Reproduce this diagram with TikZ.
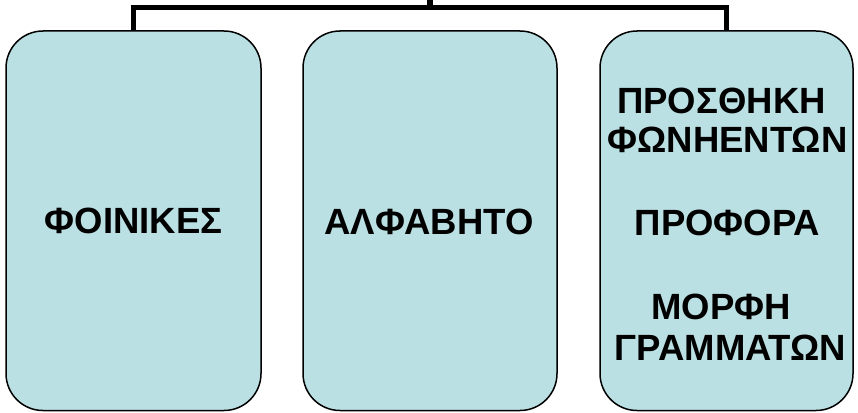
\documentclass[tikz,border=0pt]{standalone}
\usepackage{fontspec}
\setmainfont{Liberation Sans}
\definecolor{boxfill}{RGB}{187,224,227}
\begin{document}
\begin{tikzpicture}[x=1pt,y=-1pt,
  box/.style={draw=black,line width=1.5pt,fill=boxfill,rounded corners=37pt,
    inner sep=0pt,outer sep=0pt},
  lbl/.style={anchor=base,inner sep=0pt,font=\fontsize{36.5}{40}\selectfont\bfseries},
  conn/.style={line width=5.5pt,draw=black}]
\useasboundingbox (0,0) rectangle (858,412);
\path[box] (6,31) rectangle (261,410.5);
\path[box] (303,31) rectangle (557,410.5);
\path[box] (600,31) rectangle (853,410.5);
\coordinate (b1) at (133.5,31);
\coordinate (b2) at (430,31);
\coordinate (b3) at (726.5,31);
\coordinate (top) at (430,0);
\coordinate (bar) at (430,7.5);
\draw[conn] (top) -- (bar);
\draw[conn] (b1) |- (bar) -| (b3);
\node[lbl] (t1) at (133.5,233) {ΦΟΙΝΙΚΕΣ};
\node[lbl] (t2) at (429,234) {ΑΛΦΑΒΗΤΟ};
\node[lbl] (t3a) at (721.5,113) {ΠΡΟΣΘΗΚΗ};
\node[lbl] (t3b) at (727.5,152) {ΦΩΝΗΕΝΤΩΝ};
\node[lbl] (t3c) at (727.5,235) {ΠΡΟΦΟΡΑ};
\node[lbl] (t3d) at (721,319) {ΜΟΡΦΗ};
\node[lbl] (t3e) at (730.5,360) {ΓΡΑΜΜΑΤΩΝ};
\end{tikzpicture}
\end{document}
